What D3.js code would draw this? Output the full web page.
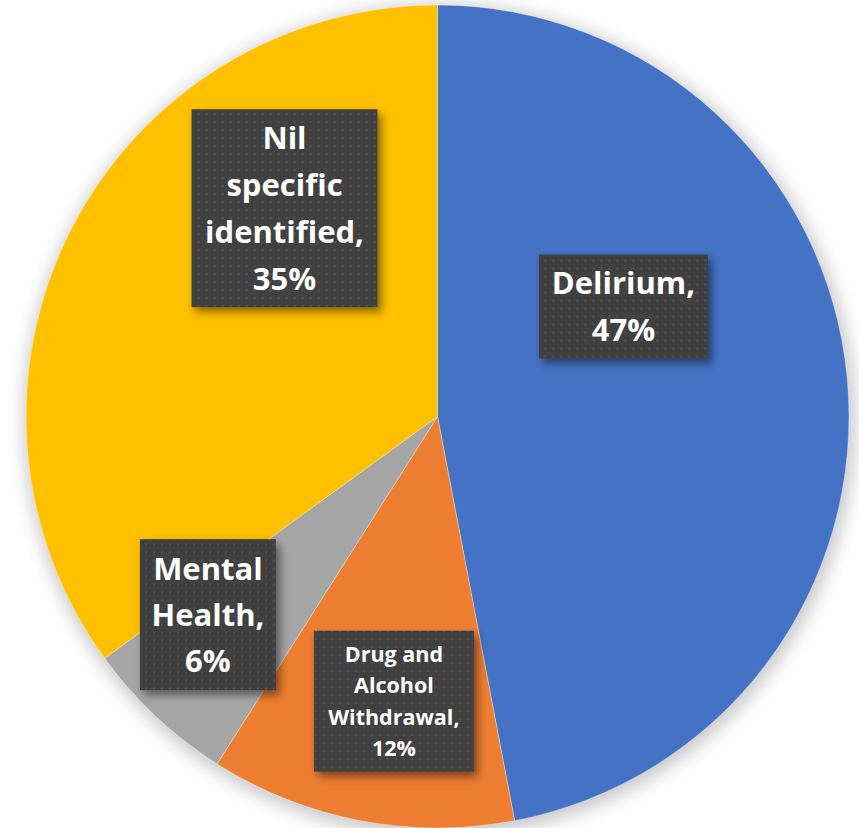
<!DOCTYPE html>
<html>
<head>
<meta charset="utf-8">
<script src="https://cdn.jsdelivr.net/npm/d3@7"></script>
<style>
  html, body { margin: 0; padding: 0; background: #fff; }
  svg { display: block; }
  .lbl { font-family: "Open Sans", "Noto Sans", sans-serif; font-weight: 700; fill: #fff; }
</style>
</head>
<body>
<div id="chart"></div>
<script>
// data
const categories = ["Delirium", "Drug and Alcohol Withdrawal", "Mental Health", "Nil specific identified"];
const values = [47, 12, 6, 35];
const colors = ["#4472C4", "#ED7D31", "#A5A5A5", "#FFC000"];
// how each label is broken into lines (last line gets the percent)
const labelLines = [["Delirium,"], ["Drug and", "Alcohol", "Withdrawal,"], ["Mental", "Health,"], ["Nil", "specific", "identified,"]];

// label placement: angle (deg, clockwise from top), distance as fraction of radius, box w/h, font size, line height
const labelLayout = [
  {ang: 59.4, dist: 0.525, w: 169, h: 104, fs: 31, lh: 47},
  {ang: 188.7, dist: 0.70, w: 160, h: 141, fs: 21.5, lh: 31.5},
  {ang: 229.2, dist: 0.737, w: 136, h: 151, fs: 31, lh: 46},
  {ang: 323.7, dist: 0.628, w: 186, h: 198, fs: 31, lh: 47}
];

const width = 859, height = 828;
const cx = 437.5, cy = 416.5, radius = 411.5;

const svg = d3.select("#chart").append("svg")
  .attr("width", width)
  .attr("height", height);

const defs = svg.append("defs");

// soft shadow behind the pie
const blur = defs.append("filter").attr("id", "pieShadow")
  .attr("x", "-20%").attr("y", "-20%").attr("width", "140%").attr("height", "140%");
blur.append("feGaussianBlur").attr("stdDeviation", 9);

// drop shadow for the label boxes
const ds = defs.append("filter").attr("id", "boxShadow")
  .attr("x", "-20%").attr("y", "-20%").attr("width", "150%").attr("height", "150%");
ds.append("feDropShadow").attr("dx", 4).attr("dy", 5).attr("stdDeviation", 4)
  .attr("flood-color", "#000").attr("flood-opacity", 0.45);

// dotted fill of the label boxes
const pat = defs.append("pattern").attr("id", "dots")
  .attr("patternUnits", "userSpaceOnUse").attr("width", 8).attr("height", 8);
pat.append("rect").attr("width", 8).attr("height", 8).attr("fill", "#404040");
pat.append("circle").attr("cx", 2).attr("cy", 2).attr("r", 0.9).attr("fill", "#595959");
pat.append("circle").attr("cx", 6).attr("cy", 6).attr("r", 0.7).attr("fill", "#4d4d4d");

const g = svg.append("g").attr("transform", `translate(${cx},${cy})`);

g.append("circle")
  .attr("r", radius + 4)
  .attr("cx", 2).attr("cy", 4)
  .attr("fill", "#9a9a9a")
  .attr("opacity", 0.55)
  .attr("filter", "url(#pieShadow)");

const data = categories.map((c, i) => ({label: c, value: values[i], color: colors[i], lines: labelLines[i], layout: labelLayout[i]}));

const pie = d3.pie().value(d => d.value).sort(null);
const arcs = pie(data);
const arc = d3.arc().innerRadius(0).outerRadius(radius);

g.selectAll("path.slice")
  .data(arcs)
  .join("path")
  .attr("class", "slice")
  .attr("d", arc)
  .attr("fill", d => d.data.color)
  .attr("stroke", "#fff")
  .attr("stroke-opacity", 0.35)
  .attr("stroke-width", 1);

const total = d3.sum(values);
const fmt = d3.format(".0%");

const labels = g.selectAll("g.lbl-g")
  .data(arcs)
  .join("g")
  .attr("class", "lbl-g")
  .attr("transform", d => {
    const L = d.data.layout;
    const a = L.ang * Math.PI / 180;
    const r = radius * L.dist;
    return `translate(${r * Math.sin(a)},${-r * Math.cos(a)})`;
  });

labels.append("rect")
  .attr("x", d => -d.data.layout.w / 2)
  .attr("y", d => -d.data.layout.h / 2)
  .attr("width", d => d.data.layout.w)
  .attr("height", d => d.data.layout.h)
  .attr("fill", "url(#dots)")
  .attr("filter", "url(#boxShadow)");

labels.each(function(d) {
  const L = d.data.layout;
  const lines = d.data.lines.concat([fmt(d.data.value / total)]);
  const n = lines.length;
  const t = d3.select(this).append("text")
    .attr("class", "lbl")
    .attr("text-anchor", "middle")
    .style("font-size", L.fs + "px");
  lines.forEach((ln, i) => {
    t.append("tspan")
      .attr("x", 0)
      .attr("y", (i - (n - 1) / 2) * L.lh + L.fs * 0.36)
      .text(ln);
  });
});
</script>
</body>
</html>
